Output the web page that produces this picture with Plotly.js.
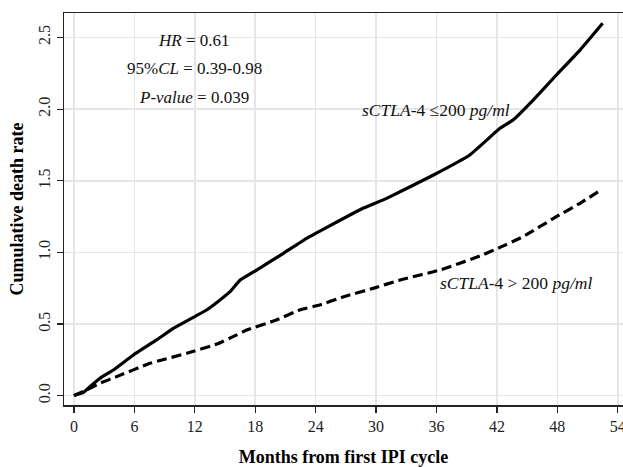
<!DOCTYPE html>
<html>
<head>
<meta charset="utf-8">
<script src="https://cdn.plot.ly/plotly-3.0.1.min.js"></script>
<style>html,body{margin:0;padding:0;background:#fff;overflow:hidden;width:623px;height:467px;}#chart{width:640px;height:467px;}</style>
</head>
<body>
<div id="chart"></div>
<script>
// Low sCTLA-4 group (<= 200 pg/ml), solid line
const lowMonths = [0, 0.13, 0.93, 1.59, 2.58, 3.9, 5.9, 8.2, 9.86, 12.08, 13.17, 14.5, 15.5, 16.5, 18.14, 20.8, 23.1, 25.25, 28.7, 31.05, 35.7, 39.3, 42.3, 43.6, 45.6, 47.9, 50.25, 52.5];
const lowRate   = [0, 0.005, 0.021, 0.063, 0.121, 0.179, 0.284, 0.389, 0.47, 0.556, 0.598, 0.668, 0.726, 0.807, 0.877, 0.994, 1.098, 1.18, 1.308, 1.377, 1.54, 1.68, 1.866, 1.924, 2.063, 2.238, 2.412, 2.599];
// High sCTLA-4 group (> 200 pg/ml), dashed line
const highMonths = [0, 0.13, 1.26, 2.6, 4.24, 7.55, 11.2, 14.2, 15.8, 17.15, 20.1, 22.4, 24.4, 26.8, 29.7, 32.4, 36.35, 40.3, 42.3, 44.6, 47.9, 50.25, 52.2];
const highRate   = [0, 0.005, 0.04, 0.087, 0.133, 0.226, 0.296, 0.36, 0.412, 0.458, 0.528, 0.598, 0.633, 0.691, 0.749, 0.808, 0.877, 0.975, 1.035, 1.11, 1.249, 1.343, 1.43];

const xTicks = [0, 6, 12, 18, 24, 30, 36, 42, 48, 54];
const yTicks = [0, 0.5, 1.0, 1.5, 2.0, 2.5];
const statLines = ['<i>HR</i> = 0.61', '95%<i>CL</i> = 0.39-0.98', '<i>P-value</i> = 0.039'];
const groupLabels = ['<i>sCTLA</i>-4 ≤200 <i>pg/ml</i>', '<i>sCTLA</i>-4 > 200 <i>pg/ml</i>'];

const font = 'Liberation Serif, Times New Roman, serif';

const traces = [
  {x: lowMonths, y: lowRate, mode: 'lines', line: {color: '#000', width: 3.2, shape: 'spline', smoothing: 0.3}, hoverinfo: 'skip'},
  {x: highMonths, y: highRate, mode: 'lines', line: {color: '#000', width: 3.2, dash: '10px,5px', shape: 'spline', smoothing: 0.3}, hoverinfo: 'skip'}
];

const statY = [2.482, 2.287, 2.084];
const annotations = statLines.map((t, i) => ({
  x: 11.92, y: statY[i], xref: 'x', yref: 'y', text: t, showarrow: false,
  font: {family: font, size: 17, color: '#111'}, xanchor: 'center', yanchor: 'middle'
}));
annotations.push({x: 35.95, y: 1.994, xref: 'x', yref: 'y', text: groupLabels[0], showarrow: false,
  font: {family: font, size: 17.5, color: '#111'}, xanchor: 'center', yanchor: 'middle'});
annotations.push({x: 43.9, y: 0.786, xref: 'x', yref: 'y', text: groupLabels[1], showarrow: false,
  font: {family: font, size: 17.5, color: '#111'}, xanchor: 'center', yanchor: 'middle'});

const layout = {
  width: 640, height: 467,
  margin: {l: 64, r: 17, t: 13, b: 62},
  paper_bgcolor: '#fff', plot_bgcolor: '#fff',
  showlegend: false,
  font: {family: font, size: 16, color: '#111'},
  xaxis: {
    range: [-0.99, 54.52], tickvals: xTicks, ticktext: xTicks.map(String),
    showgrid: true, gridcolor: '#e6e6e6', gridwidth: 1.5, zeroline: false,
    showline: true, linecolor: '#222', linewidth: 1.5, mirror: true,
    ticks: 'outside', ticklen: 6, tickwidth: 1.2, tickcolor: '#222',
    tickfont: {family: font, size: 16, color: '#222'},
    title: {text: '<b>Months from first IPI cycle</b>', font: {family: font, size: 18, color: '#000'}, standoff: 16}
  },
  yaxis: {
    range: [-0.065, 2.671], tickvals: yTicks, ticktext: yTicks.map(v => v.toFixed(1)),
    tickangle: -90,
    showgrid: true, gridcolor: '#e6e6e6', gridwidth: 1.5, zeroline: false,
    showline: true, linecolor: '#222', linewidth: 1.5,
    ticks: 'outside', ticklen: 6, tickwidth: 1.2, tickcolor: '#222',
    tickfont: {family: font, size: 16, color: '#222'},
    title: {text: '<b>Cumulative death rate</b>', font: {family: font, size: 18, color: '#000'}, standoff: 8}
  },
  annotations: annotations
};

Plotly.newPlot('chart', traces, layout, {displayModeBar: false, staticPlot: true});
</script>
</body>
</html>
